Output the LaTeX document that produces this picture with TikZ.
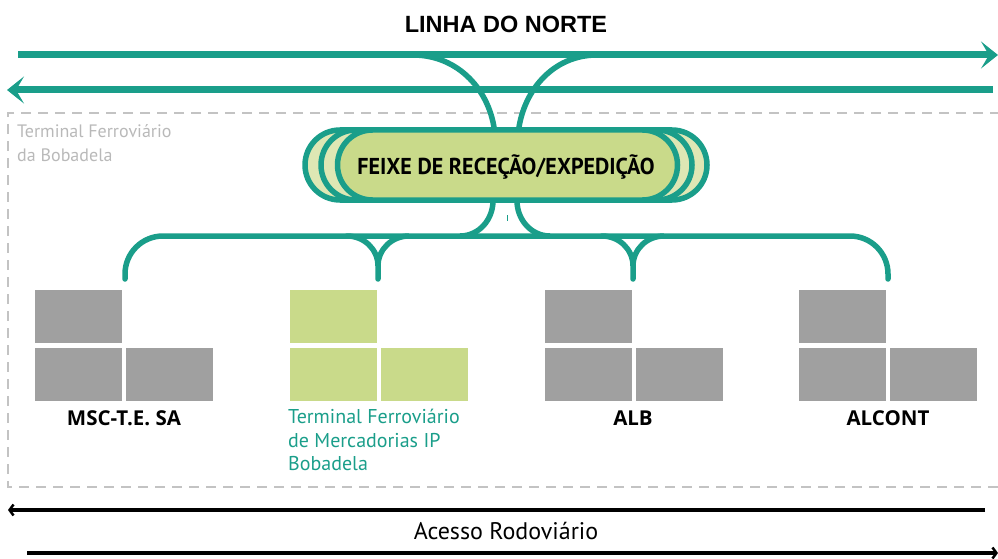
\documentclass[tikz,border=0pt]{standalone}
\usepackage{fontspec}
\setmainfont{PT Sans}
\newfontfamily\titlefont{Liberation Sans}
\newfontfamily\feixefont[FakeStretch=0.96]{PT Sans}
\newfontfamily\lblfont{Open Sans}
\usetikzlibrary{arrows.meta,shapes.misc,calc}
\definecolor{teal1}{RGB}{26,158,138}
\definecolor{greenA}{RGB}{201,218,138}
\definecolor{greenB}{RGB}{222,231,180}
\definecolor{blockgray}{RGB}{160,160,160}
\definecolor{dashgray}{RGB}{195,195,195}
\definecolor{txtgray}{RGB}{185,185,185}
\tikzset{
  track/.style={draw=teal1, line width=5.5pt},
  railline/.style={draw=teal1, line width=7pt},
  pill/.style={rounded rectangle, draw=teal1, line width=5.5pt, minimum height=70pt, inner sep=0pt},
  blk/.style={rectangle, inner sep=0pt, minimum width=87pt, minimum height=53pt, anchor=north west},
  grayblk/.style={blk, fill=blockgray},
  greenblk/.style={blk, fill=greenA},
  lbl/.style={font=\lblfont\bfseries\fontsize{20.5}{24}\selectfont, text=black},
  road/.style={draw=black, line width=4pt},
}
\begin{document}
\begin{tikzpicture}[x=1pt,y=-1pt]
\useasboundingbox (0,0) rectangle (998,559);
% title
\node[font=\titlefont\bfseries\fontsize{23.5}{26}\selectfont] (title) at (506,24) {LINHA DO NORTE};
% dashed terminal frame
\draw[dashgray, line width=2pt, dash pattern=on 10pt off 7pt] (1000,113) -- (8,113) -- (8,487) -- (1000,487);
\node[anchor=north west, align=left, text=txtgray, font=\fontsize{18}{24}\selectfont, inner sep=0pt] (tfb) at (17,124) {Terminal Ferroviário\\da Bobadela};
% track coordinates
\coordinate (l1a) at (18,55);
\coordinate (l1b) at (998,55);
\coordinate (l2a) at (993,90);
\coordinate (l2b) at (7,90);
\coordinate (c1) at (413,55);
\coordinate (c2) at (597,55);
% connectors from the line to the bundle
\draw[track] (c1) to[out=0,in=95,looseness=1.0] (495,135);
\draw[track] (c2) to[out=180,in=85,looseness=1.0] (518,135);
% lines
\draw[railline, -{Stealth[length=17pt,width=27pt,inset=8pt]}] (l1a) -- (l1b);
\draw[railline, -{Stealth[length=17pt,width=27pt,inset=8pt]}] (l2a) -- (l2b);
% bundle
\node[pill, fill=greenB, minimum width=402pt] (p1) at (506,165) {};
\node[pill, fill=greenB, minimum width=371pt] (p2) at (506.5,165) {};
\node[pill, fill=greenA, minimum width=340pt] (feixe) at (507.5,165) {};
\node[font=\feixefont\bfseries\fontsize{23}{26}\selectfont] (ftxt) at (506,167) {FEIXE DE RECEÇÃO/EXPEDIÇÃO};
% lower distribution
\coordinate (t1) at (125,279);
\coordinate (t2) at (378,279);
\coordinate (t3) at (633,279);
\coordinate (t4) at (888,279);
\draw[track, line cap=round, rounded corners=38pt] (t1) |- (t4 |- 0,236) -- (t4);
\draw[track] ($(feixe.south)+(-14.5,-2)$) to[out=-90,in=0] (460,236);
\draw[track] ($(feixe.south)+(9.5,-2)$) to[out=-90,in=180] (550,236);
\draw[track, line cap=round] (347,236) to[out=0,in=90] (378,266) -- (t2);
\draw[track] (409,236) to[out=180,in=90] (378,266);
\draw[track, line cap=round] (602,236) to[out=0,in=90] (633,266) -- (t3);
\draw[track] (664,236) to[out=180,in=90] (633,266);
\draw[teal1, line width=1pt] (507,215) -- (507,221);
% blocks
\node[grayblk] (m1) at (35,290) {};
\node[grayblk] (m2) at (35,348) {};
\node[grayblk] (m3) at (126,348) {};
\node[greenblk] (g1) at (290,290) {};
\node[greenblk] (g2) at (290,348) {};
\node[greenblk] (g3) at (381,348) {};
\node[grayblk] (a1) at (545,290) {};
\node[grayblk] (a2) at (545,348) {};
\node[grayblk] (a3) at (636,348) {};
\node[grayblk] (c1b) at (799,290) {};
\node[grayblk] (c2b) at (799,348) {};
\node[grayblk] (c3b) at (890,348) {};
% labels
\node[lbl] (msc) at (124,418) {MSC-T.E. SA};
\node[lbl] (alb) at (633,418) {ALB};
\node[lbl] (alc) at (888,418) {ALCONT};
\node[anchor=north west, align=left, text=teal1, font=\fontsize{20}{23.5}\selectfont, inner sep=0pt] (tfm) at (288,409) {Terminal Ferroviário\\de Mercadorias IP\\Bobadela};
% road access
\coordinate (r1a) at (985,510);
\coordinate (r1b) at (8,510);
\coordinate (r2a) at (27,553);
\coordinate (r2b) at (998,553);
\draw[road, -{Straight Barb[length=4pt,width=11pt,line width=2.5pt]}] (r1a) -- (r1b);
\draw[road, -{Straight Barb[length=4pt,width=11pt,line width=2.5pt]}] (r2a) -- (r2b);
\node[font=\fontsize{24}{28}\selectfont] (acesso) at (506,531) {Acesso Rodoviário};
\end{tikzpicture}
\end{document}
